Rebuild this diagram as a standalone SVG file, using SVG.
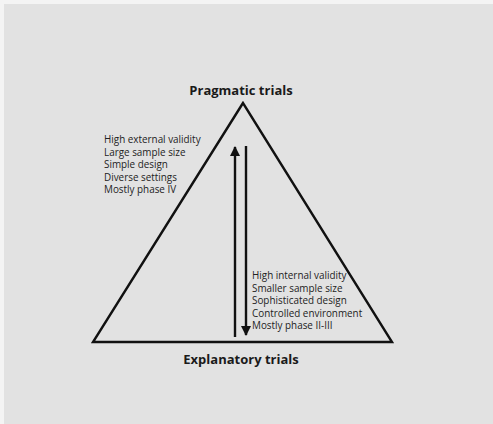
<svg xmlns="http://www.w3.org/2000/svg" width="493" height="424" viewBox="0 0 493 424">
  <defs>
    <marker id="head" viewBox="0 0 10 10" refX="9" refY="5" markerWidth="4.2" markerHeight="4.2" orient="auto" markerUnits="strokeWidth">
      <path d="M0,0 L10,5 L0,10 Z" fill="#111"/>
    </marker>
    <style>
      .title { font-family: "Open Sans", "Liberation Sans", sans-serif; font-weight: bold; font-size: 13px; fill: #1a1a1a; text-anchor: middle; }
      .item { font-family: "Open Sans", "Liberation Sans", sans-serif; font-size: 9.9px; fill: #222; }
      .edge { stroke: #111; stroke-width: 2.4; fill: none; }
    </style>
  </defs>
  <rect x="0" y="0" width="493" height="424" fill="#f4f4f4"/>
  <rect x="4" y="4" width="489" height="420" fill="#e2e2e2"/>

  <g id="triangle">
    <polygon class="edge" points="243,103 93,342 392,342" stroke-linejoin="miter"/>
  </g>

  <g id="pragmatic">
    <text class="title" x="241" y="95">Pragmatic trials</text>
    <text class="item" x="104" y="143">High external validity</text>
    <text class="item" x="104" y="155.5">Large sample size</text>
    <text class="item" x="104" y="168">Simple design</text>
    <text class="item" x="104" y="180.5">Diverse settings</text>
    <text class="item" x="104" y="193">Mostly phase IV</text>
  </g>

  <g id="explanatory">
    <text class="title" x="241" y="364">Explanatory trials</text>
    <text class="item" x="252" y="279">High internal validity</text>
    <text class="item" x="252" y="291.5">Smaller sample size</text>
    <text class="item" x="252" y="304">Sophisticated design</text>
    <text class="item" x="252" y="316.5">Controlled environment</text>
    <text class="item" x="252" y="329">Mostly phase II-III</text>
  </g>

  <g id="connectors">
    <line class="edge" x1="235" y1="337" x2="235" y2="147" marker-end="url(#head)"/>
    <line class="edge" x1="246" y1="146" x2="246" y2="335" marker-end="url(#head)"/>
  </g>
</svg>
